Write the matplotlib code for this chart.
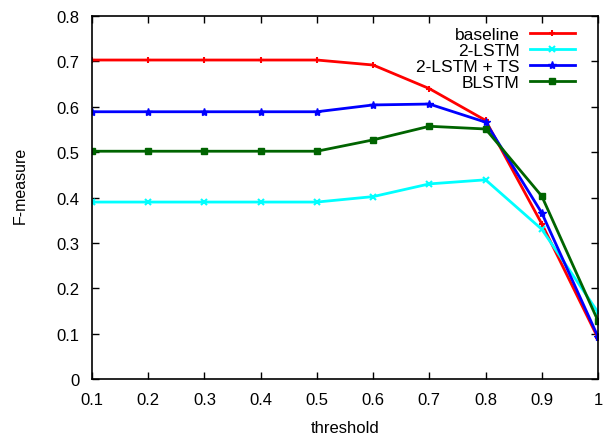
import numpy as np
import matplotlib.pyplot as plt
from matplotlib.ticker import FuncFormatter

# data
threshold = [0.1, 0.2, 0.3, 0.4, 0.5, 0.6, 0.7, 0.8, 0.9, 1.0]
baseline = [0.703, 0.703, 0.703, 0.703, 0.703, 0.692, 0.640, 0.570, 0.342, 0.090]
lstm2 = [0.390, 0.390, 0.390, 0.390, 0.390, 0.402, 0.430, 0.439, 0.330, 0.147]
lstm2_ts = [0.589, 0.589, 0.589, 0.589, 0.589, 0.604, 0.606, 0.566, 0.366, 0.093]
blstm = [0.502, 0.502, 0.502, 0.502, 0.502, 0.527, 0.557, 0.551, 0.403, 0.128]

plt.rcParams['font.family'] = ['Liberation Sans', 'DejaVu Sans']

fig = plt.figure(figsize=(6.07, 4.35), dpi=100)
ax = fig.add_axes([0.1516, 0.1264, 0.8336, 0.8345])

ax.plot(threshold, baseline, color='#ff0000', lw=2, marker='+', ms=5, mew=1.5, label='baseline')
ax.plot(threshold, lstm2, color='#00ffff', lw=2, marker='x', ms=4, mew=1.5, label='2-LSTM')
ax.plot(threshold, lstm2_ts, color='#0000ff', lw=2, marker='*', ms=6, mew=1, label='2-LSTM + TS')
ax.plot(threshold, blstm, color='#006400', lw=2, marker='s', ms=5, mew=1, label='BLSTM')

ax.set_xlim(0.1, 1.0)
ax.set_ylim(0, 0.8)
ax.set_xticks(threshold)
ax.set_yticks(np.arange(0, 0.81, 0.1))
ax.xaxis.set_major_formatter(FuncFormatter(lambda v, p: f'{v:g}'))
ax.yaxis.set_major_formatter(FuncFormatter(lambda v, p: f'{v:.1f}' if v > 0 else '0'))
ax.tick_params(direction='in', top=True, right=True, length=5, width=1, labelsize=12, pad=9)
for s in ax.spines.values():
    s.set_linewidth(1.2)

ax.set_xlabel('threshold', fontsize=12, labelpad=10)
ax.set_ylabel('F-measure', fontsize=11.5, va='center')
ax.yaxis.set_label_coords(-0.142, 0.537)

leg = ax.legend(loc='upper right', markerfirst=False, frameon=False, fontsize=12.5,
                handlelength=2.6, handletextpad=0.6, labelspacing=0.05,
                borderaxespad=0.2, bbox_to_anchor=(0.975, 1.0))
# right-align the text like gnuplot keys
for col in leg._legend_handle_box.get_children():
    col.align = 'right'

fig.savefig('out.png', dpi=100)
